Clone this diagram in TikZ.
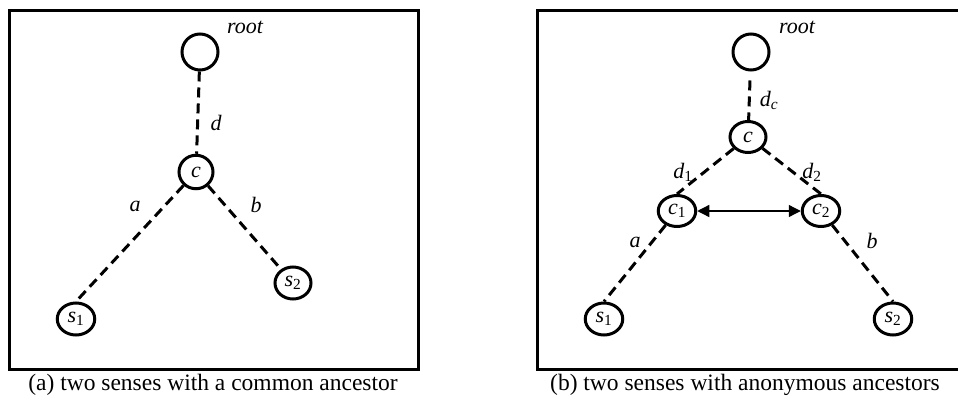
\documentclass[tikz,border=0pt]{standalone}
\usepackage{fontspec}
\setmainfont{Liberation Serif}
\usetikzlibrary{shapes.geometric,arrows.meta}
\tikzset{
  nd/.style={draw, ellipse, line width=3pt, inner sep=0pt, font=\fontsize{22}{24}\selectfont\itshape},
  lbl/.style={inner sep=0pt, font=\fontsize{22}{24}\selectfont\itshape},
  captext/.style={inner sep=0pt, font=\fontsize{23.5}{25}\selectfont},
  dline/.style={line width=3pt, dash pattern=on 10pt off 6pt},
  frame/.style={line width=3.2pt},
  dbl/.style={line width=1.3pt, {Triangle[length=12pt,width=12pt]}-{Triangle[length=12pt,width=12pt]}}
}
\newcommand{\subi}[1]{\textsubscript{\upshape #1}}
\begin{document}
\begin{tikzpicture}[x=1pt,y=-1pt]
\useasboundingbox (0,0) rectangle (958,396);
% frames
\draw[frame] (9.5,10.5) rectangle (418.5,369.5);
\draw[frame] (537.5,10.5) rectangle (965,369.5);
% ---- left panel
\node[nd, minimum width=36pt, minimum height=36pt] (rootL) at (200,52) {};
\node[nd, minimum width=34pt, minimum height=33.5pt] (cL) at (196,172) {c};
\node[nd, minimum width=37.5pt, minimum height=32pt] (s1L) at (76,319) {s\subi{1}};
\node[nd, minimum width=36pt, minimum height=32pt] (s2L) at (293,283) {s\subi{2}};
\node[lbl] (rootLl) at (245,27) {root};
\node[lbl] (dL) at (216,123) {d};
\node[lbl] (aL) at (135,206) {a};
\node[lbl] (bL) at (256,205) {b};
\draw[dline] (rootL) -- (cL);
\draw[dline] (cL) -- (s1L.north);
\draw[dline] (cL) -- (s2L);
\node[captext] (capL) at (213,385) {(a) two senses with a common ancestor};
% ---- right panel
\node[nd, minimum width=36pt, minimum height=36pt] (rootR) at (751,52) {};
\node[nd, minimum width=36pt, minimum height=31pt] (cR) at (748,137) {c};
\node[nd, minimum width=37.5pt, minimum height=31pt] (c1R) at (677,211) {c\subi{1}};
\node[nd, minimum width=37.5pt, minimum height=31pt] (c2R) at (821,211) {c\subi{2}};
\node[nd, minimum width=37.5pt, minimum height=32pt] (s1R) at (604,319) {s\subi{1}};
\node[nd, minimum width=37.5pt, minimum height=32pt] (s2R) at (893,319) {s\subi{2}};
\node[lbl] (rootRl) at (797,27) {root};
\node[lbl] (dcR) at (769,100) {d\textsubscript{c}};
\node[lbl] (d1R) at (683,172) {d\subi{1}};
\node[lbl] (d2R) at (812,172) {d\subi{2}};
\node[lbl] (aR) at (635,242) {a};
\node[lbl] (bR) at (872,241) {b};
\draw[dline, shorten <=9pt] (rootR) -- (cR);
\draw[dline] (cR) -- (c1R.north);
\draw[dline] (cR) -- (c2R.north);
\draw[dline] (c1R) -- (s1R.north);
\draw[dline] (c2R) -- (s2R.north);
\draw[dbl] (c1R) -- (c2R);
\node[captext] (capR) at (745,385) {(b) two senses with anonymous ancestors};
\end{tikzpicture}
\end{document}
